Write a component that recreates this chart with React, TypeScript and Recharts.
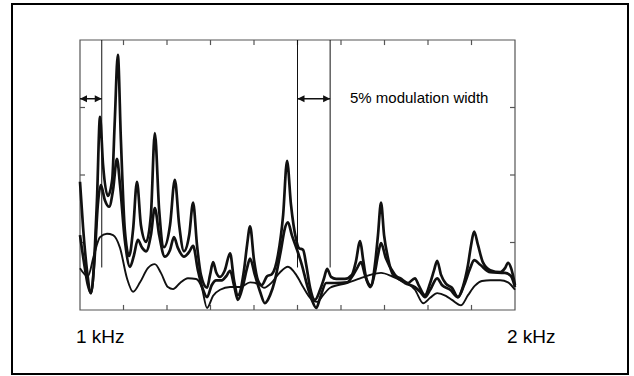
import { LineChart, Line, XAxis, YAxis, ReferenceLine, ReferenceArea, ReferenceDot } from 'recharts';

// frequency (Hz) and amplitude (axis divisions)
const seriesA = [
  [1000, 1.9], [1007, 1.23], [1016, 0.59], [1025, 0.25], [1034, 0.89], [1039, 1.63], [1046, 2.86], [1053, 2.15],
  [1064, 1.69], [1074, 1.93], [1080, 2.81], [1087, 3.78], [1094, 2.52], [1103, 1.19], [1113, 0.8], [1122, 1.19],
  [1131, 1.9], [1140, 1.26], [1152, 1.01], [1163, 1.41], [1172, 2.62], [1182, 1.48], [1193, 0.93], [1207, 1.26],
  [1218, 1.93], [1228, 1.26], [1239, 0.87], [1251, 1.11], [1260, 1.59], [1269, 0.96], [1278, 0.52], [1292, 0.33],
  [1299, 0.52], [1306, 0.71], [1313, 0.56], [1322, 0.49], [1333, 0.59], [1345, 0.84], [1354, 0.44], [1363, 0.22],
  [1377, 0.59], [1384, 0.96], [1391, 1.24], [1400, 0.74], [1409, 0.44], [1418, 0.37], [1430, 0.5], [1441, 0.53],
  [1455, 0.81], [1467, 1.41], [1476, 2.21], [1485, 1.56], [1497, 1.04], [1503, 0.92], [1513, 0.89], [1520, 0.67],
  [1529, 0.33], [1540, 0.15], [1552, 0.3], [1561, 0.47], [1568, 0.61], [1577, 0.49], [1589, 0.46], [1609, 0.46],
  [1625, 0.52], [1634, 0.71], [1644, 1.02], [1651, 0.74], [1658, 0.47], [1669, 0.36], [1678, 0.67], [1685, 1.11],
  [1692, 1.59], [1699, 1.11], [1708, 0.77], [1720, 0.52], [1736, 0.47], [1754, 0.4], [1770, 0.47], [1779, 0.36],
  [1793, 0.22], [1805, 0.4], [1814, 0.59], [1821, 0.73], [1830, 0.52], [1841, 0.39], [1855, 0.33], [1869, 0.19],
  [1880, 0.34], [1892, 0.67], [1899, 0.96], [1906, 1.16], [1915, 0.96], [1926, 0.71], [1943, 0.59], [1966, 0.56],
  [1977, 0.62], [1984, 0.7], [1991, 0.62], [2000, 0.37],
];

const seriesB = [
  [1000, 1.11], [1009, 0.71], [1018, 0.37], [1025, 0.25], [1034, 0.81], [1041, 1.56], [1048, 1.85], [1057, 1.63],
  [1067, 1.53], [1076, 1.78], [1085, 2.24], [1092, 1.85], [1103, 1.04], [1115, 0.64], [1124, 0.81], [1133, 1.04],
  [1143, 0.92], [1152, 0.87], [1163, 1.11], [1172, 1.51], [1182, 1.11], [1195, 0.79], [1207, 0.89], [1216, 1.08],
  [1225, 0.92], [1239, 0.79], [1251, 0.86], [1260, 0.95], [1271, 0.59], [1283, 0.3], [1292, 0.19], [1303, 0.37],
  [1313, 0.44], [1326, 0.44], [1336, 0.5], [1345, 0.58], [1354, 0.37], [1363, 0.15], [1375, 0.37], [1384, 0.62],
  [1391, 0.76], [1402, 0.52], [1414, 0.27], [1425, 0.1], [1437, 0.22], [1448, 0.44], [1462, 0.89], [1471, 1.21],
  [1478, 1.3], [1487, 1.11], [1499, 0.89], [1510, 0.67], [1522, 0.37], [1533, 0.15], [1543, 0.03], [1552, 0.18],
  [1566, 0.4], [1586, 0.4], [1614, 0.41], [1628, 0.52], [1637, 0.62], [1646, 0.71], [1655, 0.52], [1667, 0.34],
  [1678, 0.56], [1685, 0.81], [1692, 0.99], [1703, 0.77], [1724, 0.52], [1747, 0.4], [1770, 0.34], [1782, 0.27],
  [1793, 0.19], [1805, 0.3], [1821, 0.47], [1832, 0.37], [1851, 0.3], [1869, 0.19], [1883, 0.37], [1897, 0.62],
  [1906, 0.74], [1920, 0.67], [1943, 0.56], [1977, 0.55], [1991, 0.5], [2000, 0.34],
];

const seriesC = [
  [1000, 0.62], [1018, 0.5], [1032, 0.81], [1046, 1.08], [1062, 1.13], [1076, 1.11], [1092, 0.92], [1108, 0.47],
  [1122, 0.27], [1138, 0.41], [1156, 0.62], [1172, 0.68], [1186, 0.55], [1202, 0.34], [1214, 0.31], [1230, 0.4],
  [1248, 0.47], [1267, 0.46], [1280, 0.33], [1292, 0.03], [1306, 0.21], [1322, 0.3], [1345, 0.34], [1368, 0.34],
  [1391, 0.41], [1409, 0.39], [1423, 0.33], [1441, 0.41], [1460, 0.56], [1478, 0.64], [1497, 0.52], [1513, 0.34],
  [1529, 0.18], [1545, 0.12], [1559, 0.22], [1575, 0.33], [1614, 0.4], [1644, 0.47], [1667, 0.52], [1692, 0.55],
  [1717, 0.5], [1740, 0.43], [1770, 0.3], [1789, 0.1], [1805, 0.18], [1821, 0.25], [1841, 0.21], [1855, 0.15],
  [1876, 0.07], [1892, 0.22], [1908, 0.36], [1924, 0.43], [1943, 0.44], [1966, 0.44], [1984, 0.41], [2000, 0.3],
];

const xTicks = [1100, 1200, 1300, 1400, 1500, 1600, 1700, 1800, 1900];
const yTicks = [1, 2, 3];
const markerLines = [1050, 1500, 1575];
const markerBottom = 0.63;
const arrowSpans = [[1000, 1050], [1500, 1575]];
const arrowLevel = 3.13;

const toPoints = (rows: number[][]) => rows.map(([f, a]) => ({ f, a }));

const INK = '#111';
const FRAME = '#555';
const TX = 11.5; // 5px in Hz
const TY = 0.075; // 5px in divisions

const arrowHead = (dir: number) => (props: any) => {
  const { cx, cy } = props;
  const pts = `${cx},${cy} ${cx - dir * 7},${cy - 3.5} ${cx - dir * 7},${cy + 3.5}`;
  return <polygon points={pts} fill={INK} />;
};

export default function App() {
  return (
    <div style={{ position: 'absolute', left: 0, top: 0, width: 634, height: 376, background: '#fff' }}>
      <LineChart width={634} height={376} margin={{ top: 40, right: 119, bottom: 66, left: 80 }}>
        <XAxis type="number" dataKey="f" domain={[1000, 2000]} hide allowDuplicatedCategory={false} />
        <YAxis type="number" domain={[0, 4]} hide />
        <ReferenceArea x1={1000} x2={2000} y1={0} y2={4} fill="none" stroke={FRAME} strokeWidth={1.2} />
        {xTicks.map((t) => (
          <ReferenceLine key={`b${t}`} segment={[{ x: t, y: 0 }, { x: t, y: TY }]} stroke={FRAME} strokeWidth={1.2} />
        ))}
        {xTicks.map((t) => (
          <ReferenceLine key={`t${t}`} segment={[{ x: t, y: 4 }, { x: t, y: 4 - TY }]} stroke={FRAME} strokeWidth={1.2} />
        ))}
        {yTicks.map((t) => (
          <ReferenceLine key={`l${t}`} segment={[{ x: 1000, y: t }, { x: 1000 + TX, y: t }]} stroke={FRAME} strokeWidth={1.2} />
        ))}
        {yTicks.map((t) => (
          <ReferenceLine key={`r${t}`} segment={[{ x: 2000, y: t }, { x: 2000 - TX, y: t }]} stroke={FRAME} strokeWidth={1.2} />
        ))}
        {markerLines.map((m) => (
          <ReferenceLine key={`m${m}`} segment={[{ x: m, y: markerBottom }, { x: m, y: 4 }]} stroke={INK} strokeWidth={1} />
        ))}
        {arrowSpans.map(([a, b]) => (
          <ReferenceLine key={`a${a}`} segment={[{ x: a, y: arrowLevel }, { x: b, y: arrowLevel }]} stroke={INK} strokeWidth={1.5} />
        ))}
        {arrowSpans.map(([a]) => (
          <ReferenceDot key={`ha${a}`} x={a} y={arrowLevel} shape={arrowHead(-1)} />
        ))}
        {arrowSpans.map(([, b]) => (
          <ReferenceDot key={`hb${b}`} x={b} y={arrowLevel} shape={arrowHead(1)} />
        ))}
        <Line data={toPoints(seriesC)} dataKey="a" type="monotone" stroke={INK} strokeWidth={1.9} dot={false} isAnimationActive={false} />
        <Line data={toPoints(seriesB)} dataKey="a" type="monotone" stroke={INK} strokeWidth={2.7} dot={false} isAnimationActive={false} />
        <Line data={toPoints(seriesA)} dataKey="a" type="monotone" stroke={INK} strokeWidth={2.7} dot={false} isAnimationActive={false} />
      </LineChart>
      <svg width={634} height={376} style={{ position: 'absolute', left: 0, top: 0, pointerEvents: 'none' }}>
        <rect x={12} y={4} width={616} height={370} fill="none" stroke="#000" strokeWidth={2} />
        <g fontFamily="'Liberation Sans', Arial, sans-serif" fill="#000">
          <text x={350} y={103} fontSize={15}>5% modulation width</text>
          <text x={76} y={343} fontSize={19}>1 kHz</text>
          <text x={507} y={343} fontSize={19}>2 kHz</text>
        </g>
      </svg>
    </div>
  );
}
